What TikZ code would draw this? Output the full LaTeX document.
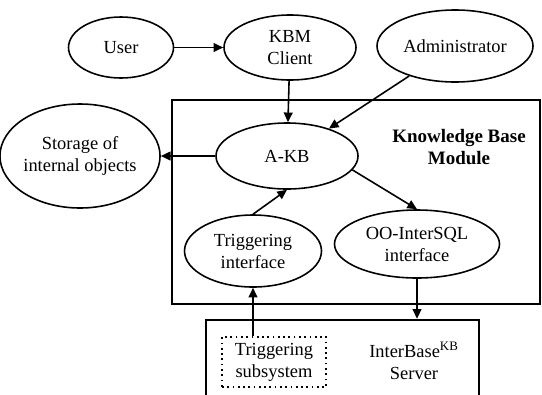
\documentclass[tikz,border=0pt]{standalone}
\usepackage{fontspec}
\setmainfont{Liberation Serif}
\usepackage{tikz}
\usetikzlibrary{
  arrows.meta,
  shapes.geometric,
  positioning,
  calc
}
\tikzset{
  kbfont/.style={font=\fontsize{10.5}{12.5}\selectfont},
  kbnode/.style={
    draw, ellipse, inner sep=0pt, align=center, line width=0.9pt, kbfont
  },
  kbframe/.style={draw, rectangle, line width=1.4pt, inner sep=0pt},
  kbsub/.style={draw, rectangle, dotted, line width=1pt, inner sep=0pt,
    minimum width=2.08cm, minimum height=1cm, align=center, kbfont},
  kblabel/.style={align=center, kbfont},
  flow/.style={-{Triangle[length=5.5pt, width=5pt]}, line width=0.9pt}
}

\begin{document}
\begin{tikzpicture}[x=2mm, y=-2mm]
  \useasboundingbox (0,0) rectangle (54.2,39.4);
  \clip (0,0) rectangle (54.2,39.4);
  % frames
  \node[kbframe, minimum width=7.36cm, minimum height=4.08cm] (kbm) at (35.6,20.2) {};
  \node[kbframe, minimum width=5.46cm, minimum height=2cm] (server) at (34.25,37.0) {};
  \node[kblabel, font=\fontsize{10.8}{12.5}\selectfont\bfseries] (kbmlabel) at (45.9,14.75) {Knowledge Base\\Module};
  \node[kblabel] (serverlabel) at (41.4,36.1) {InterBase\textsuperscript{KB}\\Server};
  % ellipses
  \node[kbnode, minimum width=2.1cm, minimum height=1.22cm] (user) at (12.1,4.75) {User};
  \node[kbnode, minimum width=2.64cm, minimum height=1.3cm] (client) at (29.0,4.75) {KBM\\Client};
  \node[kbnode, minimum width=3.12cm, minimum height=1.44cm] (admin) at (45.5,4.6) {Administrator};
  \node[kbnode, minimum width=2.92cm, minimum height=2.08cm] (storage) at (8.0,15.6) {Storage of\\internal objects};
  \node[kbnode, minimum width=2.84cm, minimum height=1.32cm] (akb) at (28.7,15.6) {A-KB};
  \node[kbnode, minimum width=2.74cm, minimum height=1.44cm] (trig) at (25.3,25.1) {Triggering\\interface};
  \node[kbnode, minimum width=3.3cm, minimum height=1.36cm] (oosql) at (41.7,24.4) {OO-InterSQL\\interface};
  \node[kbsub] (trigsub) at (27.4,36.2) {Triggering\\subsystem};
  % connectors
  \draw[flow] (user) -- (client);
  \draw[flow] (client) -- (akb);
  \draw[flow] (admin) -- (akb);
  \draw[flow] (akb) -- (storage);
  \draw[flow] (trig.north) -- (akb.south);
  \draw[flow] (akb.-12) -- (oosql.north);
  \draw[flow] (oosql.south) -- (oosql.south |- server.north);
  \draw[flow] (trigsub.north -| trig.south) -- (trig.south);
\end{tikzpicture}
\end{document}
